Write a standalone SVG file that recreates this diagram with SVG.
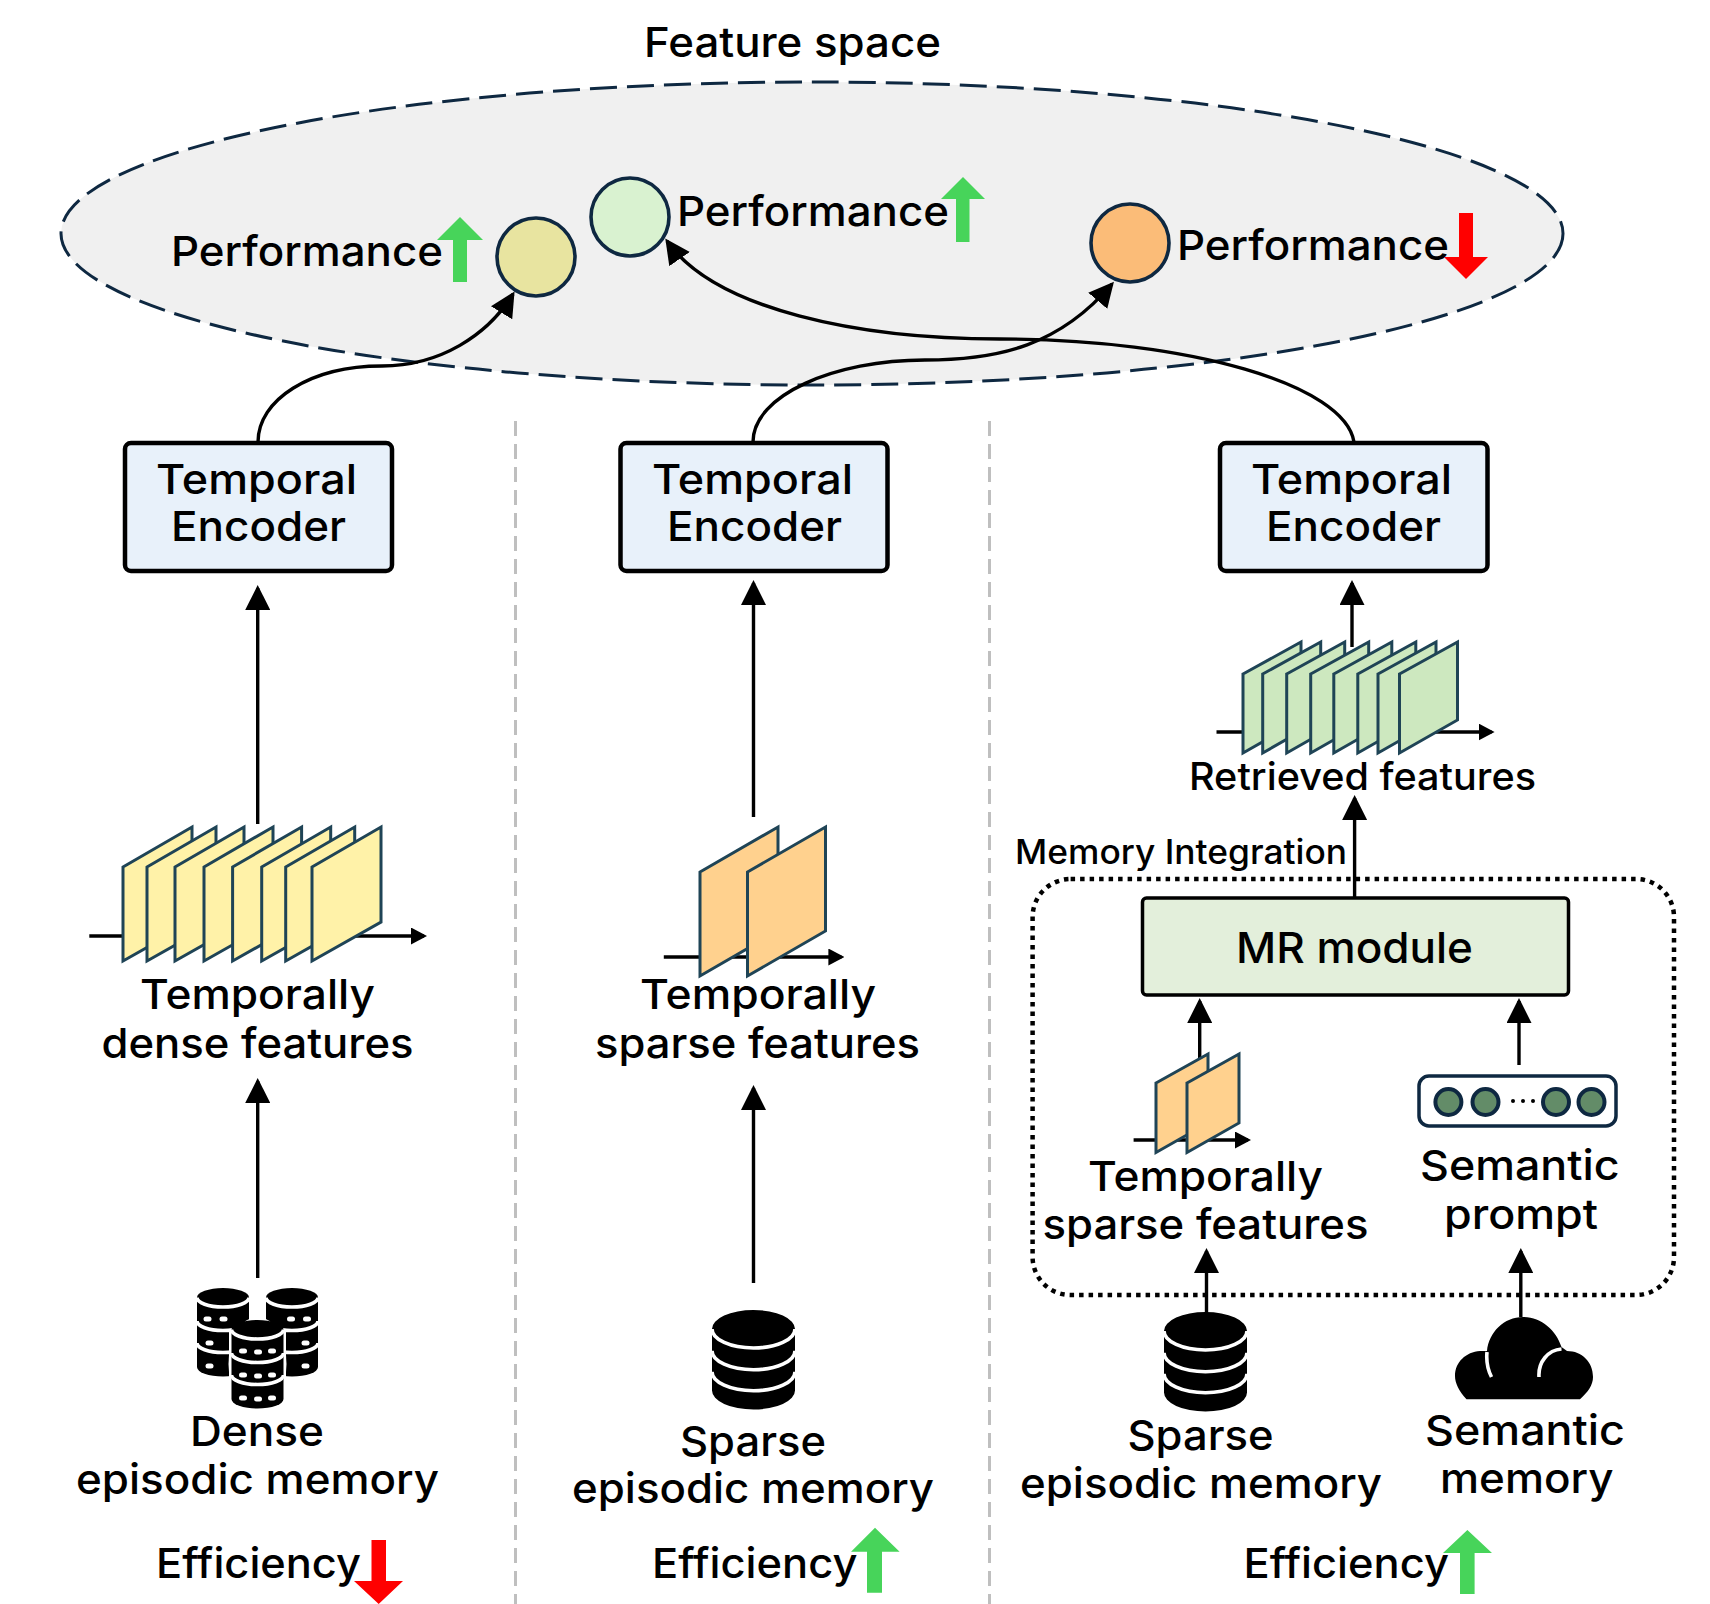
<svg xmlns="http://www.w3.org/2000/svg" width="1710" height="1604" viewBox="0 0 1710 1604">
<style>
text{font-family:"Inter","Liberation Sans",sans-serif;font-size:41.5px;font-weight:500;fill:#000}
.sm{font-size:34px}.md{font-size:38px}.lg{font-size:43px}
.frame{stroke:#1f4456;stroke-width:3;stroke-linejoin:miter}
.y{fill:#fff2a8}.g{fill:#cde8bf}.o{fill:#ffd18e}
.box{stroke:#000;stroke-width:4.500}
.enc{fill:#e8f1fa}
.c{fill:none;stroke:#000;stroke-width:3.400;marker-end:url(#head)}
.ax{fill:none;stroke:#000;stroke-width:3.400;marker-end:url(#axh)}
.dot{fill:none;stroke:#000;stroke-width:4.500;stroke-dasharray:4.500 5}
.div{fill:none;stroke:#bfbfbf;stroke-width:3;stroke-dasharray:15 8}
.pt{stroke:#0e2841;stroke-width:3.600}
.w{fill:none;stroke:#fff;stroke-width:3.600}
.up{fill:#47d45a}.dn{fill:#ff0000}
.tk{fill:#638c68;stroke:#0e2841;stroke-width:4}
</style>
<defs>
<marker id="head" markerUnits="userSpaceOnUse" viewBox="0 0 25 25" markerWidth="25" markerHeight="25" refX="22" refY="12.5" orient="auto"><path d="M0 0L25 12.5L0 25Z" fill="#000"/></marker>
<marker id="axh" markerUnits="userSpaceOnUse" viewBox="0 0 16 17" markerWidth="16" markerHeight="17" refX="13" refY="8.5" orient="auto"><path d="M0 0L16 8.5L0 17Z" fill="#000"/></marker>
<polygon id="fy" class="frame y" points="0,40 69,0 69,95 0,134"/>
<polygon id="fg" class="frame g" points="0,32 58,0 58,78 0,111"/>
<polygon id="fo" class="frame o" points="0,45 78,0 78,104 0,149"/>
<polygon id="fs" class="frame o" points="0,29 52,0 52,69 0,98.5"/>
<g id="db"><path d="M-41.5 19A41.5 19 0 0 1 41.5 19V80.5A41.5 19 0 0 1 -41.5 80.5Z" fill="#000"/><path class="w" d="M-41.5 19A41.5 19 0 0 0 41.5 19M-41.5 40.7A41.5 19 0 0 0 41.5 40.7M-41.5 61.7A41.5 19 0 0 0 41.5 61.7"/></g>
<g id="sdb"><path d="M-26 9.5A26 9.5 0 0 1 26 9.5V79A26 9.5 0 0 1 -26 79Z" fill="#000"/><path class="w" d="M-26 9.5A26 9.5 0 0 0 26 9.5M-26 33A26 9.5 0 0 0 26 33M-26 55A26 9.5 0 0 0 26 55"/></g>
<rect id="h" x="-4" y="-2.5" width="8" height="5" rx="2.500" fill="#fff"/>
</defs>
<rect width="1710" height="1604" fill="#fff"/>
<g id="feature-space">
<ellipse cx="812" cy="233.5" rx="751" ry="151.5" fill="#f0f0f0" stroke="#0e2841" stroke-width="3" stroke-dasharray="27 10"/>
<text x="644" y="56.5" textLength="297" lengthAdjust="spacingAndGlyphs">Feature space</text>
</g>
<g id="dividers">
<path class="div" d="M515.500 421V1604M989.500 421V1604"/>
</g>
<g id="connectors">
<path class="c" d="M258 442C258 400 310 366 382 366C440 366 488 335 513 294"/>
<path class="c" d="M753 442C753 395 835 360 925 360C1000 360 1060 345 1112 284"/>
<path class="c" d="M1354 442C1345 385 1190 339 1000 339C860 339 715 310 667 241"/>
<path class="c" d="M257.700 824V588"/>
<path class="c" d="M257.700 1278V1081"/>
<path class="c" d="M753.500 817V583"/>
<path class="c" d="M753.500 1283V1088"/>
<path class="c" d="M1352 647V583"/>
<path class="c" d="M1354.600 897V798"/>
<path class="c" d="M1199.700 1059V1001"/>
<path class="c" d="M1519 1065V1001"/>
<path class="c" d="M1206.500 1313V1251"/>
<path class="c" d="M1520.800 1317V1251"/>
<path class="ax" d="M89.300 936H424"/>
<path class="ax" d="M663.800 957H841.400"/>
<path class="ax" d="M1216.500 732H1491.600"/>
<path class="ax" d="M1133.600 1140H1248"/>
</g>
<g id="point-dense">
<circle class="pt" cx="536" cy="257" r="39" fill="#e8e4a0"/>
<text x="171" y="266" textLength="272" lengthAdjust="spacingAndGlyphs">Performance</text>
<path class="up" d="M460 217L483 240H467V282H453V240H437Z"/>
</g>
<g id="point-sparse">
<circle class="pt" cx="630" cy="217" r="39" fill="#d9f2d0"/>
<text x="677" y="226" textLength="272" lengthAdjust="spacingAndGlyphs">Performance</text>
<path class="up" d="M963 177L985 199H969.500V242H956V199H941Z"/>
</g>
<g id="point-retrieved">
<circle class="pt" cx="1130" cy="243" r="39" fill="#fbbc78"/>
<text x="1177" y="259.5" textLength="272" lengthAdjust="spacingAndGlyphs">Performance</text>
<path class="dn" d="M1459 213H1473V257H1488L1466 279L1444 257H1459Z"/>
</g>
<g id="encoder-1">
<rect class="box enc" x="125" y="443" width="267" height="128" rx="6"/>
<text x="156" y="494" textLength="201" lengthAdjust="spacingAndGlyphs">Temporal</text>
<text x="171" y="541" textLength="175" lengthAdjust="spacingAndGlyphs">Encoder</text>
</g>
<g id="encoder-2">
<rect class="box enc" x="620.500" y="443" width="267" height="128" rx="6"/>
<text x="652" y="494" textLength="201" lengthAdjust="spacingAndGlyphs">Temporal</text>
<text x="667" y="541" textLength="175" lengthAdjust="spacingAndGlyphs">Encoder</text>
</g>
<g id="encoder-3">
<rect class="box enc" x="1220" y="443" width="267.500" height="128" rx="6"/>
<text x="1251" y="494" textLength="201" lengthAdjust="spacingAndGlyphs">Temporal</text>
<text x="1266" y="541" textLength="175" lengthAdjust="spacingAndGlyphs">Encoder</text>
</g>
<g id="dense-features">
<use href="#fy" x="123" y="827"/><use href="#fy" x="147" y="827"/><use href="#fy" x="175" y="827"/><use href="#fy" x="204" y="827"/><use href="#fy" x="232.6" y="827"/><use href="#fy" x="261.7" y="827"/><use href="#fy" x="285.7" y="827"/><use href="#fy" x="312" y="827"/>
<text x="140" y="1009" textLength="235" lengthAdjust="spacingAndGlyphs">Temporally</text>
<text x="101.500" y="1058" textLength="312" lengthAdjust="spacingAndGlyphs">dense features</text>
</g>
<g id="sparse-features">
<use href="#fo" x="700" y="827"/><use href="#fo" x="747.5" y="827"/>
<text x="640" y="1009" textLength="236" lengthAdjust="spacingAndGlyphs">Temporally</text>
<text x="595" y="1058" textLength="325" lengthAdjust="spacingAndGlyphs">sparse features</text>
</g>
<g id="retrieved-features">
<use href="#fg" x="1243" y="642"/><use href="#fg" x="1262.7" y="642"/><use href="#fg" x="1286.7" y="642"/><use href="#fg" x="1310.7" y="642"/><use href="#fg" x="1333.8" y="642"/><use href="#fg" x="1357.8" y="642"/><use href="#fg" x="1378" y="642"/><use href="#fg" x="1399.5" y="642"/>
<text class="md" x="1189" y="790" textLength="347" lengthAdjust="spacingAndGlyphs">Retrieved features</text>
</g>
<g id="memory-integration">
<rect class="dot" x="1032.6" y="879" width="641.4" height="416" rx="38"/>
<text class="sm" x="1015" y="864" textLength="332" lengthAdjust="spacingAndGlyphs">Memory Integration</text>
</g>
<g id="mr-module">
<rect x="1142.500" y="898" width="426" height="97" rx="4" fill="#e3efdb" stroke="#000" stroke-width="3.500"/>
<text class="lg" x="1236" y="962.500" textLength="237" lengthAdjust="spacingAndGlyphs">MR module</text>
</g>
<g id="small-sparse-features">
<use href="#fs" x="1156" y="1054"/><use href="#fs" x="1187" y="1054"/>
<text x="1088" y="1191" textLength="235" lengthAdjust="spacingAndGlyphs">Temporally</text>
<text x="1042.500" y="1239" textLength="326" lengthAdjust="spacingAndGlyphs">sparse features</text>
</g>
<g id="semantic-prompt">
<rect x="1419" y="1076" width="197" height="50" rx="10" fill="#fff" stroke="#0e2841" stroke-width="3.500"/>
<circle class="tk" cx="1448.4" cy="1102" r="13"/><circle class="tk" cx="1485.5" cy="1102" r="13"/><circle class="tk" cx="1556" cy="1102" r="13"/><circle class="tk" cx="1591.5" cy="1102" r="13"/>
<circle cx="1513" cy="1101" r="2"/><circle cx="1523" cy="1101" r="2"/><circle cx="1533" cy="1101" r="2"/>
<text x="1420" y="1180" textLength="199.500" lengthAdjust="spacingAndGlyphs">Semantic</text>
<text x="1444" y="1228.500" textLength="154" lengthAdjust="spacingAndGlyphs">prompt</text>
</g>
<g id="dense-memory">
<g><use href="#sdb" x="223" y="1288"/><use href="#h" x="207.500" y="1319"/><use href="#h" x="223.500" y="1319"/><use href="#h" x="209.500" y="1343"/><use href="#h" x="209.500" y="1366"/></g>
<g><use href="#sdb" x="292" y="1288"/><use href="#h" x="291" y="1319"/><use href="#h" x="307" y="1319"/><use href="#h" x="305.500" y="1343"/><use href="#h" x="305.500" y="1366"/></g>
<g><ellipse cx="257.500" cy="1364" rx="29" ry="47" fill="#fff"/><path d="M229 1330h57v56h-57z" fill="#fff"/><use href="#sdb" x="257.500" y="1320"/>
<use href="#h" x="243" y="1351"/><use href="#h" x="258" y="1352"/><use href="#h" x="272" y="1351"/><use href="#h" x="243" y="1375"/><use href="#h" x="258" y="1376"/><use href="#h" x="272" y="1375"/><use href="#h" x="243" y="1398"/><use href="#h" x="258" y="1399"/><use href="#h" x="272" y="1398"/></g>
<text x="190" y="1446" textLength="134" lengthAdjust="spacingAndGlyphs">Dense</text>
<text x="76" y="1494" textLength="363" lengthAdjust="spacingAndGlyphs">episodic memory</text>
</g>
<g id="sparse-memory">
<use href="#db" x="753.500" y="1310"/>
<text x="680" y="1455.500" textLength="146" lengthAdjust="spacingAndGlyphs">Sparse</text>
<text x="572" y="1503" textLength="362" lengthAdjust="spacingAndGlyphs">episodic memory</text>
</g>
<g id="sparse-memory-3">
<use href="#db" x="1205.500" y="1312"/>
<text x="1127.500" y="1450" textLength="146" lengthAdjust="spacingAndGlyphs">Sparse</text>
<text x="1020" y="1498" textLength="362" lengthAdjust="spacingAndGlyphs">episodic memory</text>
</g>
<g id="semantic-memory">
<path d="M1466.500 1399.300C1459 1391 1455 1383 1455 1376C1455 1362 1466 1352 1480 1351L1487 1351C1489 1332 1504 1317 1523 1317C1541 1317 1556 1330 1561.500 1347L1567 1351C1582 1351 1593 1362 1593 1377C1593 1385 1588 1392 1580 1399.300Z" fill="#000"/>
<path class="w" d="M1487 1352C1486 1362 1488 1370 1491.500 1377M1561.500 1349C1548 1350 1538 1362 1539 1377"/>
<text x="1425" y="1444.500" textLength="200" lengthAdjust="spacingAndGlyphs">Semantic</text>
<text x="1440" y="1492.500" textLength="173.500" lengthAdjust="spacingAndGlyphs">memory</text>
</g>
<g id="efficiency-1">
<text x="156" y="1578" textLength="205" lengthAdjust="spacingAndGlyphs">Efficiency</text>
<path class="dn" d="M371.500 1540H386V1581H403L378.700 1604L354 1581H371.500Z"/>
</g>
<g id="efficiency-2">
<text x="652" y="1578" textLength="205.500" lengthAdjust="spacingAndGlyphs">Efficiency</text>
<path class="up" d="M875 1527.700L899.600 1551.700H882V1592.700H867V1551.700H851Z"/>
</g>
<g id="efficiency-3">
<text x="1243.500" y="1578" textLength="205.500" lengthAdjust="spacingAndGlyphs">Efficiency</text>
<path class="up" d="M1467.400 1530L1492 1553H1474.600V1594H1460V1553H1443Z"/>
</g>
</svg>
